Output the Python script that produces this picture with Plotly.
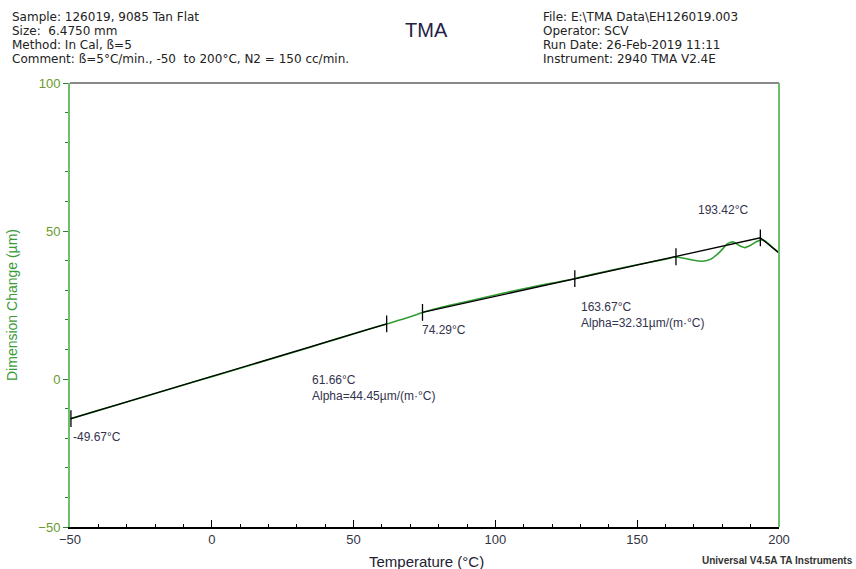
import plotly.graph_objects as go

# ---- data ----
temp_c = [-50, -40, -30, -20, -10, 0, 10, 20, 30, 40, 50, 61.66, 70, 74.29, 80, 90,
          100, 110, 120, 128, 140, 150, 160, 163.67, 167, 170, 173, 176, 179, 182,
          184, 186, 188, 190, 192, 194, 196, 198, 200]
dim_um = [-13.5, -10.6, -7.8, -4.9, -2.0, 0.8, 3.6, 6.5, 9.4, 12.3, 15.3, 18.6, 21.0,
          22.5, 24.0, 26.2, 28.4, 30.5, 32.4, 33.9, 36.6, 38.6, 40.5, 41.2, 40.7,
          40.1, 39.8, 40.5, 42.8, 45.8, 46.3, 45.1, 44.4, 45.2, 46.4, 47.0, 46.0,
          44.2, 42.6]

fit_t = [-49.67, 0, 61.66, None, 74.29, 128, 163.67, 193.42, 200]
fit_v = [-13.4, 0.9, 18.6, None, 22.5, 33.9, 41.3, 47.7, 42.6]

event_t = [-49.67, 61.66, 74.29, 128, 163.67, 193.42]
event_v = [-13.4, 18.6, 22.5, 33.9, 41.3, 47.7]

x_ticks = [-50, 0, 50, 100, 150, 200]
y_ticks = [-50, 0, 50, 100]

header_left = ["Sample: 126019, 9085 Tan Flat", "Size:  6.4750 mm",
               "Method: In Cal, \u00df=5",
               "Comment: \u00df=5\u00b0C/min., -50  to 200\u00b0C, N2 = 150 cc/min."]
header_right = ["File: E:\\TMA Data\\EH126019.003", "Operator: SCV",
                "Run Date: 26-Feb-2019 11:11", "Instrument: 2940 TMA V2.4E"]

GREEN = "#2f9e2f"
AXGREEN = "#6cc06c"
FONT = "Liberation Sans, Arial, sans-serif"
HFONT = "DejaVu Sans, Liberation Sans, sans-serif"

W, H = 856, 569
L, R, T, B = 70, 77, 83, 42


def px(xp):
    return (xp - L) / (W - L - R)


def py(yp):
    return 1 - (yp - T) / (H - T - B)


fig = go.Figure()
fig.add_trace(go.Scatter(x=temp_c, y=dim_um, mode="lines",
                         line=dict(color=GREEN, width=1.6, shape="spline", smoothing=0.6),
                         showlegend=False, hoverinfo="skip"))
fig.add_trace(go.Scatter(x=fit_t, y=fit_v, mode="lines",
                         line=dict(color="black", width=1.3),
                         showlegend=False, hoverinfo="skip", connectgaps=False))
fig.add_trace(go.Scatter(x=event_t, y=event_v, mode="markers",
                         marker=dict(symbol="line-ns", size=12,
                                     line=dict(color="black", width=1.3)),
                         showlegend=False, hoverinfo="skip"))

ann_font = dict(family=FONT, size=12, color="#33334d")
anns = [
    dict(x=-49.6, y=-19.6, text="-49.67\u00b0C", xanchor="left"),
    dict(x=34.6, y=-3.0, text="61.66\u00b0C<br>Alpha=44.45\u00b5m/(m\u00b7\u00b0C)",
         xanchor="left"),
    dict(x=73.5, y=16.7, text="74.29\u00b0C", xanchor="left"),
    dict(x=129.6, y=21.5, text="163.67\u00b0C<br>Alpha=32.31\u00b5m/(m\u00b7\u00b0C)",
         xanchor="left"),
    dict(x=180.5, y=57.1, text="193.42\u00b0C", xanchor="center"),
]
for a in anns:
    fig.add_annotation(xref="x", yref="y", showarrow=False, yanchor="middle",
                       align="left", font=ann_font, **a)

hdr_font = dict(family=HFONT, size=12, color="#222222")
for i, s in enumerate(header_left):
    fig.add_annotation(xref="paper", yref="paper", showarrow=False, borderpad=0,
                       x=px(11), y=py(17 + 14 * i),
                       xanchor="left", yanchor="middle", text=s, font=hdr_font)
for i, s in enumerate(header_right):
    fig.add_annotation(xref="paper", yref="paper", showarrow=False, borderpad=0,
                       x=px(542), y=py(17 + 14 * i),
                       xanchor="left", yanchor="middle", text=s, font=hdr_font)
fig.add_annotation(xref="paper", yref="paper", showarrow=False,
                   x=px(426), y=py(30), xanchor="center", yanchor="middle", text="TMA",
                   font=dict(family=FONT, size=20, color="#222244"))
fig.add_annotation(xref="paper", yref="paper", showarrow=False,
                   x=px(855), y=py(560), xanchor="right", yanchor="middle",
                   text="<b>Universal V4.5A TA Instruments</b>",
                   font=dict(family=FONT, size=10, color="#333333"))
# axis titles
fig.add_annotation(xref="paper", yref="paper", showarrow=False,
                   x=px(426), y=py(561), xanchor="center", yanchor="middle",
                   text="Temperature (\u00b0C)",
                   font=dict(family=FONT, size=15, color="#222233"))
fig.add_annotation(xref="paper", yref="paper", showarrow=False,
                   x=px(12), y=py(305), xanchor="center", yanchor="middle",
                   textangle=-90, text="Dimension Change (\u00b5m)",
                   font=dict(family=FONT, size=14, color="#3a9a3a"))

# top (gray) and right (green) frame lines
fig.add_shape(type="line", xref="paper", yref="paper", x0=0, x1=1, y0=1, y1=1,
              line=dict(color="#888888", width=2))
fig.add_shape(type="line", xref="paper", yref="paper", x0=1, x1=1, y0=0, y1=1,
              line=dict(color=AXGREEN, width=2))

fig.update_layout(
    width=W, height=H, margin=dict(l=L, r=R, t=T, b=B, autoexpand=False),
    paper_bgcolor="white", plot_bgcolor="white",
    font=dict(family=FONT),
    xaxis=dict(range=[-50, 200], tickvals=x_ticks, ticks="inside", ticklen=7,
               tickcolor="black", showline=True, linecolor="black", linewidth=1.5,
               showgrid=False, zeroline=False, automargin=False,
               tickfont=dict(size=13, color="#333344"),
               minor=dict(dtick=10, ticks="inside", ticklen=3, tickcolor="black")),
    yaxis=dict(range=[-50, 100], tickvals=y_ticks, ticks="outside", ticklen=5,
               tickcolor="#2f7f2f", showline=True, linecolor=AXGREEN, linewidth=2,
               showgrid=False, zeroline=False, automargin=False,
               tickfont=dict(size=13, color="#6a9a2a"),
               minor=dict(dtick=10, ticks="outside", ticklen=3, tickcolor="#2f7f2f")),
)
fig.write_html("out.html", config={"displayModeBar": False},
               post_script="document.body.style.margin='0';document.body.style.padding='0';")
